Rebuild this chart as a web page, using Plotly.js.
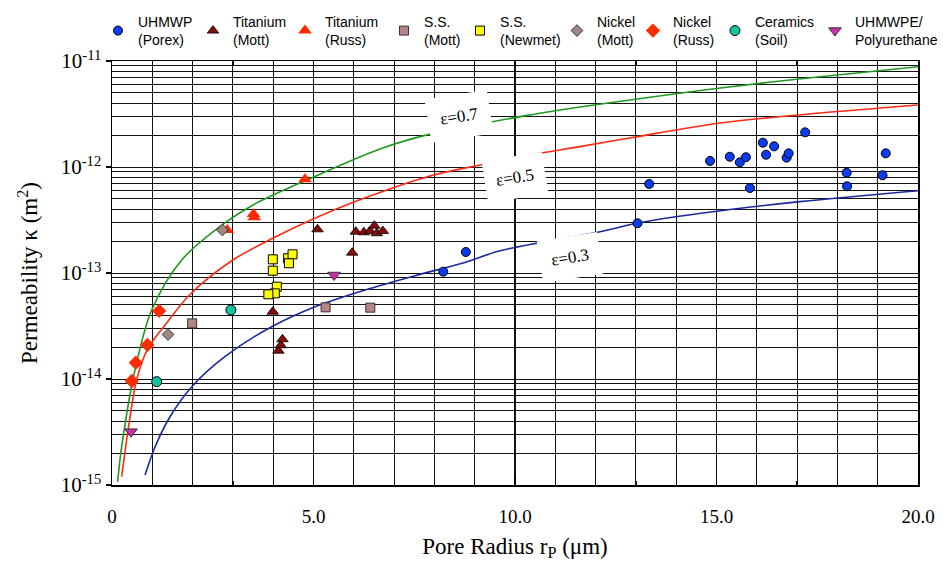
<!DOCTYPE html>
<html>
<head>
<meta charset="utf-8">
<script src="https://cdn.plot.ly/plotly-3.0.1.min.js"></script>
<style>html,body{margin:0;padding:0;background:#fff}#chart{width:943px;height:566px}</style>
</head>
<body>
<div id="chart"></div>
<script>
// ---- model curves ----
const eps07X = [0.14,0.24,0.57,0.985,1.73,2.80,3.50,4.79,6.65,7.89,10.37,11.61,12.85,15.09,17.57,20.0];
const eps07Log = [-14.969,-14.639,-13.915,-13.349,-12.877,-12.528,-12.358,-12.13,-11.83,-11.69,-11.509,-11.434,-11.368,-11.255,-11.148,-11.054];
const eps05X = [0.24,0.40,0.61,0.88,1.36,1.94,3.00,4.00,4.99,6.15,7.89,9.13,10.37,11.61,12.85,15.09,17.57,20.0];
const eps05Log = [-14.922,-14.481,-14.009,-13.72,-13.47,-13.20,-12.877,-12.67,-12.49,-12.31,-12.085,-11.981,-11.887,-11.808,-11.726,-11.585,-11.491,-11.415];
const eps03X = [0.82,1.07,1.44,1.98,2.80,3.96,5.04,6.28,7.52,8.76,9.63,12.11,13.02,14.61,17.07,20.0];
const eps03Log = [-14.906,-14.639,-14.356,-14.073,-13.790,-13.507,-13.318,-13.160,-13.025,-12.90,-12.79,-12.610,-12.531,-12.437,-12.327,-12.224];

// ---- measured data ----
const porexX = [8.22,8.78,13.04,13.33,14.84,15.33,15.58,15.73,15.83,16.15,16.23,16.43,16.74,16.79,17.20,18.23,18.24,19.12,19.20];
const porexLog = [-12.988,-12.802,-12.531,-12.160,-11.943,-11.903,-11.956,-11.908,-12.198,-11.771,-11.884,-11.805,-11.912,-11.871,-11.673,-12.054,-12.182,-12.078,-11.871];
const tiMottX = [3.99,4.13,4.19,4.23,5.10,5.96,6.05,6.25,6.40,6.51,6.57,6.72];
const tiMottLog = [-13.365,-13.733,-13.682,-13.625,-12.588,-12.808,-12.610,-12.616,-12.604,-12.554,-12.625,-12.604];
const tiRussX = [2.86,3.51,3.53,4.79];
const tiRussLog = [-12.594,-12.443,-12.475,-12.116];
const ssMottX = [1.99,5.30,6.41];
const ssMottLog = [-13.475,-13.324,-13.327];
const ssNewX = [3.99,3.99,4.37,4.48,4.39,4.09,4.04,3.88];
const ssNewLog = [-12.871,-12.978,-12.861,-12.824,-12.908,-13.129,-13.192,-13.201];
const niMottX = [2.74,1.39];
const niMottLog = [-12.594,-13.580];
const niRussX = [1.17,0.88,0.59,0.49];
const niRussLog = [-13.358,-13.679,-13.846,-14.019];
const ceramX = [2.95,1.11,0.59];
const ceramLog = [-13.349,-14.025,-15.025];
const puX = [5.51,0.47];
const puLog = [-13.019,-14.497];

const seriesNames = ['UHMWP<br>(Porex)','Titanium<br>(Mott)','Titanium<br>(Russ)','S.S.<br>(Mott)','S.S.<br>(Newmet)','Nickel<br>(Mott)','Nickel<br>(Russ)','Ceramics<br>(Soil)','UHMWPE/<br>Polyurethane'];
const curveLabels = ['ε=0.7','ε=0.5','ε=0.3'];
const xTickVals = [0,5,10,15,20];
const xTickText = ['0','5.0','10.0','15.0','20.0'];
const yTickExp = [-15,-14,-13,-12,-11];

const pw = v => v.map(e => Math.pow(10, e));

function curve(x, lg, color) {
  return {x: x, y: pw(lg), type: 'scatter', mode: 'lines', showlegend: false, hoverinfo: 'skip',
          line: {color: color, width: 1.6, shape: 'spline', smoothing: 0.9}, cliponaxis: false};
}
function pts(i, x, lg, sym, fill, size, lineCol, lw, lwidth) {
  return {x: x, y: pw(lg), type: 'scatter', mode: 'markers', name: seriesNames[i], legendwidth: lwidth,
          marker: {symbol: sym, color: fill, size: size, line: {color: lineCol, width: lw}}, cliponaxis: false};
}

const traces = [
  curve(eps07X, eps07Log, '#1f9a1f'),
  curve(eps05X, eps05Log, '#ff2a14'),
  curve(eps03X, eps03Log, '#1a2a9c'),
  pts(0, porexX, porexLog, 'circle', '#0a3cf0', 9, '#000', 1, 50),
  pts(1, tiMottX, tiMottLog, 'triangle-up', '#8a0a0a', 10, '#000', 0.8, 47),
  pts(2, tiRussX, tiRussLog, 'triangle-up', '#ff2a00', 12, '#ff2a00', 0, 54),
  pts(3, ssMottX, ssMottLog, 'square', '#b58585', 9, '#333', 1, 31),
  pts(4, ssNewX, ssNewLog, 'square', '#ffff00', 9, '#000', 1, 52),
  pts(5, niMottX, niMottLog, 'diamond', '#a38585', 9, '#333', 1, 31),
  pts(6, niRussX, niRussLog, 'diamond', '#ff2a00', 11, '#ff2a00', 0, 37),
  pts(7, ceramX, ceramLog, 'circle', '#14c4a0', 10, '#000', 1, 55),
  pts(8, puX, puLog, 'triangle-down', '#cc2ea8', 11, '#333', 1, 84)
];

const serif = 'Liberation Serif, Times New Roman, serif';
const layout = {
  width: 943, height: 566,
  margin: {l: 112, r: 25, t: 61, b: 81, autoexpand: false},
  paper_bgcolor: '#fff', plot_bgcolor: '#fff',
  showlegend: true,
  legend: {orientation: 'h', x: -0.0174, xanchor: 'left', y: 1.13, yanchor: 'top',
           font: {family: 'Liberation Sans, Arial, sans-serif', size: 14, color: '#000'},
           bgcolor: 'rgba(0,0,0,0)', itemwidth: 30, traceorder: 'normal', valign: 'middle'},
  xaxis: {
    range: [0, 20], tickvals: xTickVals, ticktext: xTickText,
    ticks: 'inside', ticklen: 7, tickwidth: 1.2, tickcolor: '#000',
    showgrid: true, gridcolor: '#111', gridwidth: 1,
    minor: {dtick: 1, showgrid: true, gridcolor: '#111', gridwidth: 1.1, ticks: 'inside', ticklen: 4, tickcolor: '#000'},
    showline: true, linecolor: '#000', linewidth: 1.5, mirror: 'allticks', zeroline: false,
    tickfont: {family: serif, size: 19, color: '#000'}, ticklabelstandoff: 14,
    title: {text: 'Pore Radius r<sub>P</sub> (μm)', font: {family: serif, size: 23, color: '#000'}, standoff: 11}
  },
  yaxis: {
    type: 'log', range: [-15, -11],
    tickvals: pw(yTickExp), ticktext: yTickExp.map(e => '10<sup>' + e + '</sup>'),
    ticks: 'outside', ticklen: 5, tickwidth: 1.5, tickcolor: '#000',
    showgrid: true, gridcolor: '#111', gridwidth: 1,
    minor: {dtick: 'D1', showgrid: true, gridcolor: '#111', gridwidth: 1},
    showline: true, linecolor: '#000', linewidth: 1.5, mirror: true, zeroline: false,
    tickfont: {family: serif, size: 21, color: '#000'},
    title: {text: 'Permeability κ (m<sup>2</sup>)', font: {family: serif, size: 23, color: '#000'}, standoff: 16}
  },
  annotations: [
    {x: 8.6, y: -11.52, xref: 'x', yref: 'y', text: curveLabels[0], showarrow: false, textangle: -9,
     bgcolor: '#fff', borderpad: 12, font: {family: serif, size: 17, color: '#000'}},
    {x: 10.0, y: -12.10, xref: 'x', yref: 'y', text: curveLabels[1], showarrow: false, textangle: -9,
     bgcolor: '#fff', borderpad: 11, font: {family: serif, size: 17, color: '#000'}},
    {x: 11.36, y: -12.85, xref: 'x', yref: 'y', text: curveLabels[2], showarrow: false, textangle: -9,
     bgcolor: '#fff', borderpad: 11, font: {family: serif, size: 17, color: '#000'}}
  ]
};

Plotly.newPlot('chart', traces, layout, {displayModeBar: false, staticPlot: true});
</script>
</body>
</html>
